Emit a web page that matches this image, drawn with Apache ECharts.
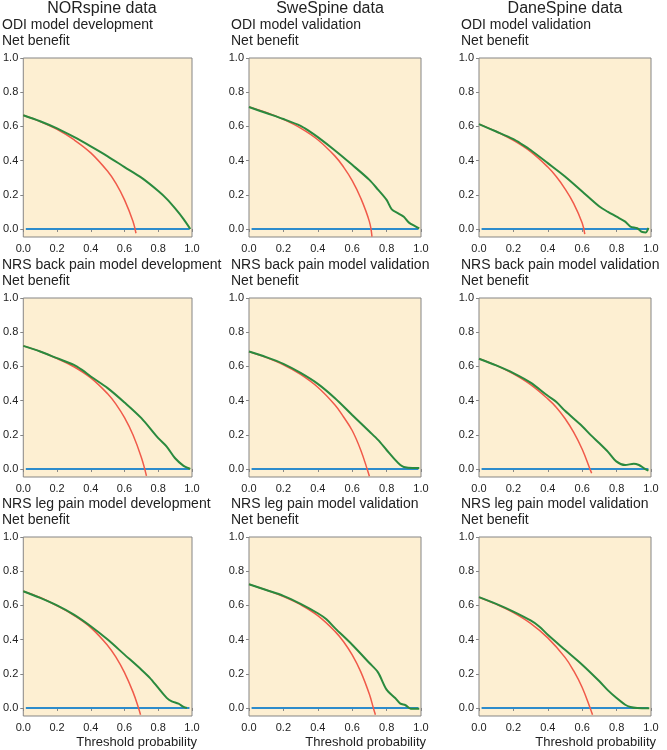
<!DOCTYPE html>
<html>
<head>
<meta charset="utf-8">
<script src="https://cdn.jsdelivr.net/npm/echarts@6/dist/echarts.min.js"></script>
<style>
html,body{margin:0;padding:0;background:#fff;}
#chart{width:667px;height:750px;}
</style>
</head>
<body>
<div id="chart"></div>
<script>
// ---- data ----
const columnTitles = ['NORspine data', 'SweSpine data', 'DaneSpine data'];
const panelTitles = [
  'ODI model development', 'ODI model validation', 'ODI model validation',
  'NRS back pain model development', 'NRS back pain model validation', 'NRS back pain model validation',
  'NRS leg pain model development', 'NRS leg pain model validation', 'NRS leg pain model validation'
];
const yLabel = 'Net benefit';
const xLabel = 'Threshold probability';
const xTicks = [0, 0.2, 0.4, 0.6, 0.8, 1.0];
const yTicks = [0, 0.2, 0.4, 0.6, 0.8, 1.0];
const treatNoneX = [0.015, 0.985];

// Model (green) and treat-all (red) net benefit curves, [threshold, net benefit]
const odiNorModel = [[0,0.665],[0.1,0.63],[0.2,0.588],[0.3,0.538],[0.4,0.483],[0.5,0.425],[0.6,0.362],[0.7,0.3],[0.8,0.222],[0.85,0.176],[0.9,0.12],[0.95,0.058],[0.99,0.0]];
const odiNorAll = [[0,0.665],[0.1,0.628],[0.2,0.582],[0.3,0.522],[0.4,0.445],[0.5,0.337],[0.55,0.265],[0.6,0.17],[0.65,0.045],[0.668,-0.025]];

const odiSweModel = [[0,0.713],[0.1,0.678],[0.2,0.643],[0.3,0.603],[0.35,0.572],[0.4,0.537],[0.5,0.459],[0.6,0.375],[0.7,0.287],[0.75,0.23],[0.8,0.17],[0.83,0.115],[0.87,0.09],[0.9,0.072],[0.93,0.037],[0.97,0.014],[0.99,0.003]];
const odiSweAll = [[0,0.713],[0.1,0.681],[0.2,0.641],[0.3,0.59],[0.4,0.522],[0.5,0.426],[0.55,0.362],[0.6,0.283],[0.65,0.18],[0.7,0.043],[0.715,-0.045]];

const odiDaneModel = [[0,0.613],[0.1,0.57],[0.2,0.525],[0.25,0.495],[0.3,0.462],[0.4,0.385],[0.5,0.307],[0.6,0.219],[0.7,0.131],[0.75,0.1],[0.8,0.072],[0.85,0.043],[0.88,0.014],[0.92,0.004],[0.95,-0.018],[0.97,-0.02],[0.985,0.006]];
const odiDaneAll = [[0,0.613],[0.1,0.57],[0.2,0.518],[0.3,0.452],[0.4,0.362],[0.45,0.305],[0.5,0.235],[0.55,0.15],[0.6,0.035],[0.615,-0.03]];

const backNorModel = [[0,0.72],[0.1,0.687],[0.2,0.648],[0.3,0.609],[0.35,0.578],[0.4,0.541],[0.5,0.473],[0.6,0.389],[0.7,0.297],[0.8,0.18],[0.85,0.131],[0.9,0.0625],[0.95,0.018],[0.98,0.004],[0.99,0.0]];
const backNorAll = [[0,0.72],[0.1,0.687],[0.2,0.646],[0.3,0.598],[0.4,0.533],[0.5,0.44],[0.55,0.378],[0.6,0.3],[0.65,0.2],[0.7,0.067],[0.73,-0.04]];

const backSweModel = [[0,0.687],[0.1,0.654],[0.2,0.615],[0.3,0.562],[0.4,0.498],[0.5,0.414],[0.6,0.316],[0.7,0.219],[0.75,0.17],[0.8,0.111],[0.85,0.053],[0.88,0.023],[0.9,0.012],[0.95,0.006],[0.99,0.006]];
const backSweAll = [[0,0.687],[0.1,0.652],[0.2,0.609],[0.3,0.553],[0.4,0.478],[0.5,0.374],[0.55,0.304],[0.6,0.225],[0.65,0.11],[0.69,-0.01],[0.7,-0.043]];

const backDaneModel = [[0,0.645],[0.1,0.606],[0.2,0.561],[0.3,0.505],[0.4,0.428],[0.45,0.392],[0.5,0.34],[0.6,0.25],[0.65,0.198],[0.7,0.15],[0.75,0.1],[0.8,0.043],[0.85,0.023],[0.9,0.031],[0.93,0.023],[0.96,0.004],[0.985,-0.01]];
const backDaneAll = [[0,0.645],[0.1,0.606],[0.2,0.556],[0.3,0.493],[0.4,0.41],[0.45,0.36],[0.5,0.295],[0.55,0.215],[0.6,0.115],[0.645,0.0],[0.655,-0.025]];

const legNorModel = [[0,0.683],[0.1,0.644],[0.2,0.6],[0.3,0.546],[0.4,0.478],[0.5,0.4],[0.6,0.312],[0.7,0.224],[0.75,0.176],[0.8,0.117],[0.85,0.059],[0.88,0.039],[0.92,0.025],[0.95,0.006],[0.97,0.0]];
const legNorAll = [[0,0.683],[0.1,0.646],[0.2,0.598],[0.3,0.542],[0.4,0.47],[0.5,0.366],[0.55,0.296],[0.6,0.207],[0.65,0.094],[0.683,0.0],[0.695,-0.04]];

const legSweModel = [[0,0.724],[0.1,0.69],[0.2,0.656],[0.3,0.609],[0.4,0.554],[0.45,0.519],[0.5,0.467],[0.6,0.37],[0.7,0.263],[0.75,0.208],[0.8,0.107],[0.85,0.058],[0.88,0.025],[0.91,0.016],[0.94,-0.004],[0.99,-0.004]];
const legSweAll = [[0,0.724],[0.1,0.69],[0.2,0.652],[0.3,0.604],[0.4,0.54],[0.5,0.448],[0.55,0.387],[0.6,0.31],[0.65,0.211],[0.7,0.08],[0.723,0],[0.735,-0.04]];

const legDaneModel = [[0,0.648],[0.1,0.609],[0.2,0.564],[0.3,0.512],[0.35,0.477],[0.4,0.428],[0.5,0.34],[0.6,0.253],[0.7,0.156],[0.75,0.103],[0.8,0.058],[0.85,0.019],[0.88,0.006],[0.92,0.0],[0.99,-0.002]];
const legDaneAll = [[0,0.648],[0.1,0.607],[0.2,0.558],[0.3,0.495],[0.4,0.41],[0.5,0.296],[0.55,0.218],[0.6,0.12],[0.646,0.0],[0.66,-0.04]];

const modelCurves = [odiNorModel, odiSweModel, odiDaneModel, backNorModel, backSweModel, backDaneModel, legNorModel, legSweModel, legDaneModel];
const allCurves = [odiNorAll, odiSweAll, odiDaneAll, backNorAll, backSweAll, backDaneAll, legNorAll, legSweAll, legDaneAll];

// ---- layout ----
const FONT = "'Liberation Sans', Arial, Helvetica, sans-serif";
const colLeft = [20, 249, 479];
const rowTop = [58, 298, 537];
const plotW = 172, plotH = 179;
const bg = '#fdefd2', frame = '#858585';
const cGreen = '#2a8a3e', cRed = '#f05a4a', cBlue = '#2d8ccc';

function label(text, x, y, size, align) {
  return {type: 'text', x: x, y: y,
    style: {text: text, fontSize: size, fontFamily: FONT, fill: '#222',
      align: align, verticalAlign: 'middle', textAlign: align, textVerticalAlign: 'middle'}};
}

const grids = [], xAxes = [], yAxes = [], series = [], graphics = [];
for (let r = 0; r < 3; r++) {
  for (let c = 0; c < 3; c++) {
    const i = r * 3 + c;
    grids.push({left: colLeft[c], top: rowTop[r], width: plotW, height: plotH,
      show: true, backgroundColor: bg, borderColor: frame, borderWidth: 1, containLabel: false});
    xAxes.push({type: 'value', gridIndex: i, min: 0, max: 1, interval: 0.2,
      axisLine: {show: false}, splitLine: {show: false},
      axisTick: {show: true, length: 3, lineStyle: {color: frame}},
      axisLabel: {show: true, margin: 6, fontSize: 11, color: '#222', fontFamily: FONT,
        formatter: v => v.toFixed(1)}});
    yAxes.push({type: 'value', gridIndex: i, min: -0.047, max: 1,
      axisLine: {show: false}, splitLine: {show: false},
      axisTick: {show: true, length: 3, lineStyle: {color: frame}, customValues: yTicks},
      axisLabel: {show: true, margin: 5, fontSize: 11, color: '#222', fontFamily: FONT,
        customValues: yTicks, formatter: v => v.toFixed(1)}});
    series.push({type: 'line', xAxisIndex: i, yAxisIndex: i, data: treatNoneX.map(x => [x, 0]),
      symbol: 'none', lineStyle: {color: cBlue, width: 2}, silent: true, z: 2});
    series.push({type: 'line', xAxisIndex: i, yAxisIndex: i, data: allCurves[i],
      symbol: 'none', smooth: 0.4, lineStyle: {color: cRed, width: 1.5}, silent: true, z: 3});
    series.push({type: 'line', xAxisIndex: i, yAxisIndex: i, data: modelCurves[i],
      symbol: 'none', smooth: 0.3, lineStyle: {color: cGreen, width: 2}, silent: true, z: 4});
    graphics.push(label(panelTitles[i], colLeft[c] - 18, rowTop[r] - 32.5, 14, 'left'));
    graphics.push(label(yLabel, colLeft[c] - 18, rowTop[r] - 16.8, 14, 'left'));
    if (r === 2) {
      graphics.push(label(xLabel, colLeft[c] + plotW + 5, 742, 13, 'right'));
    }
  }
}
const colCenters = [102, 330, 565];
for (let c = 0; c < 3; c++) {
  graphics.push(label(columnTitles[c], colCenters[c], 9, 16, 'center'));
}

const chart = echarts.init(document.getElementById('chart'), null, {renderer: 'canvas'});
chart.setOption({
  animation: false,
  grid: grids, xAxis: xAxes, yAxis: yAxes, series: series, graphic: graphics
});
</script>
</body>
</html>
